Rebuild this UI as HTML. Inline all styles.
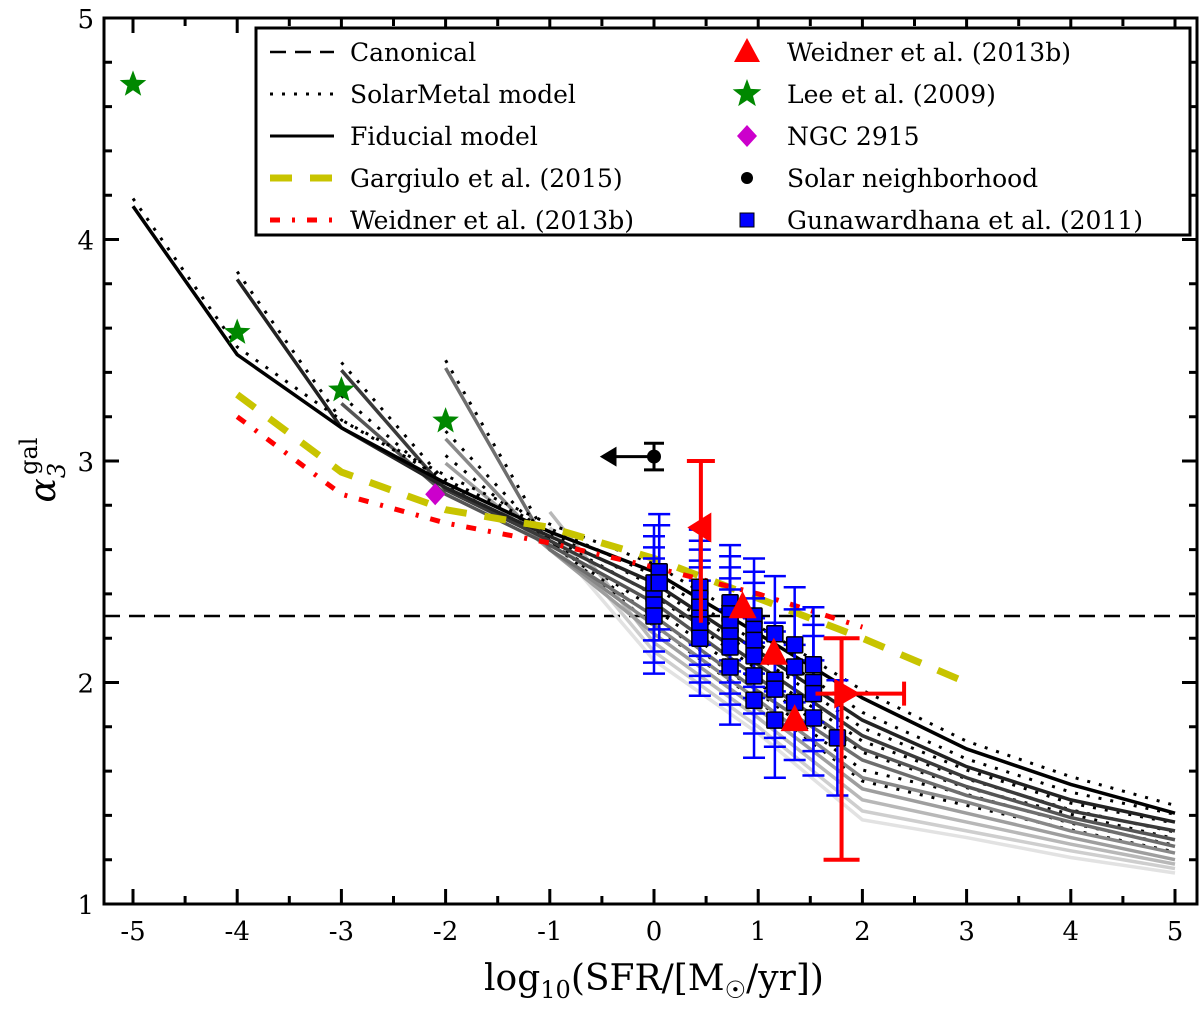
<!DOCTYPE html>
<html><head><meta charset="utf-8"><style>
body{margin:0;background:#fff;}
svg{display:block;font-family:"DejaVu Serif","Liberation Serif",serif;}
</style></head><body>
<svg id="chart" width="1200" height="1009"></svg>
<script>
const xTicks=[-5,-4,-3,-2,-1,0,1,2,3,4,5];
const yTicks=[1,2,3,4,5];
const modelStarts=[-5,-4,-3,-3,-2,-2,-2,-1,-1,-1];
const modelVals=[
[4.15,3.48,3.15,2.9,2.68,2.5,2.22,1.93,1.70,1.54,1.41],
[3.82,3.15,2.88,2.66,2.45,2.14,1.83,1.62,1.47,1.37],
[3.41,2.87,2.64,2.4,2.08,1.76,1.57,1.42,1.33],
[3.26,2.85,2.62,2.36,2.02,1.70,1.53,1.39,1.29],
[3.42,2.6,2.3,1.96,1.65,1.49,1.37,1.26],
[3.10,2.6,2.26,1.92,1.57,1.46,1.33,1.23],
[2.99,2.6,2.22,1.88,1.52,1.41,1.30,1.20],
[2.77,2.18,1.84,1.47,1.37,1.27,1.18],
[2.7,2.14,1.80,1.42,1.33,1.24,1.16],
[2.65,2.10,1.77,1.38,1.30,1.21,1.14]];
const modelShades=['#000','#222','#3a3a3a','#555','#6e6e6e','#888','#9e9e9e','#b8b8b8','#cecece','#e2e2e2'];
const gargX=[-4,-3,-2,-1,0,1,2,3];
const gargY=[3.3,2.95,2.78,2.7,2.56,2.38,2.2,2.0];
const weidX=[-4,-3,-2,-1,0,1,2];
const weidY=[3.2,2.85,2.72,2.63,2.52,2.4,2.25];
const starX=[-5,-4,-3,-2];
const starY=[4.7,3.58,3.32,3.18];
const gunX=[0,0,0,0,0.05,0.05,0.44,0.44,0.44,0.44,0.44,0.44,0.73,0.73,0.73,0.73,0.73,0.73,0.96,0.96,0.96,0.96,0.96,0.96,1.16,1.16,1.16,1.16,1.35,1.35,1.35,1.53,1.53,1.53,1.53,1.76];
const gunY=[2.4,2.35,2.3,2.45,2.5,2.45,2.43,2.38,2.34,2.29,2.26,2.2,2.36,2.31,2.26,2.21,2.16,2.07,2.3,2.24,2.19,2.12,2.03,1.92,2.22,2.01,1.97,1.83,2.17,2.07,1.91,2.08,2.0,1.95,1.84,1.75];
const gunErr=0.26;
const triX=[0.85,1.15,1.35];
const triY=[2.34,2.13,1.83];
const canonical=2.3;

const L=104,R=1197,T=18,B=904;
const sx=v=>654+v*104.2;
const sy=v=>904-(v-1)*221.5;
const NS='http://www.w3.org/2000/svg';
const svg=document.getElementById('chart');
function el(tag,attrs,parent){const e=document.createElementNS(NS,tag);for(const k in attrs)e.setAttribute(k,attrs[k]);(parent||svg).appendChild(e);return e;}
const clip=el('clipPath',{id:'pc'});el('rect',{x:L,y:T,width:R-L,height:B-T},clip);
const plot=el('g',{'clip-path':'url(#pc)'});



const can=el('line',{x1:L,x2:R,y1:sy(canonical),y2:sy(canonical),stroke:'#000','stroke-width':2.5,'stroke-dasharray':'16,9'},plot);



for(let i=modelVals.length-1;i>=0;i--){
  const pts=modelVals[i].map((v,j)=>sx(modelStarts[i]+j)+','+sy(v)).join(' ');
  const pl=el('polyline',{points:pts,fill:'none',stroke:modelShades[i],'stroke-width':3.5},plot);
  
  
  if(i<7){
    const pd=modelVals[i].map((v,j)=>sx(modelStarts[i]+j)+','+sy(v+0.035)).join(' ');
    const dl=el('polyline',{points:pd,fill:'none',stroke:'#000','stroke-width':3,'stroke-dasharray':'3,9'},plot);
    
    
  }
}
const g=el('polyline',{points:gargX.map((x,i)=>sx(x)+','+sy(gargY[i])).join(' '),fill:'none',stroke:'#c8c400','stroke-width':7,'stroke-dasharray':'22,18'},plot);


const w=el('polyline',{points:weidX.map((x,i)=>sx(x)+','+sy(weidY[i])).join(' '),fill:'none',stroke:'#f00','stroke-width':5,'stroke-dasharray':'10,12,3,12'},plot);



gunX.forEach((x,i)=>{
  const cx=sx(x),t=sy(gunY[i]+gunErr),b=sy(gunY[i]-gunErr);
  const eb=el('path',{d:`M${cx},${t}V${b}M${cx-11},${t}h22M${cx-11},${b}h22`,stroke:'#00f','stroke-width':2.5,fill:'none'},plot);
  
  
});
gunX.forEach((x,i)=>{
  const r=el('rect',{x:sx(x)-8,y:sy(gunY[i])-8,width:16,height:16,fill:'#00f',stroke:'#000','stroke-width':1.5,rx:1},plot);
  
  
});
function redBar(d,name){const p=el('path',{d:d,stroke:'#f00','stroke-width':4,fill:'none'},plot);}
redBar(`M${sx(0.45)},${sy(3.0)}V${sy(2.27)}M${sx(0.45)-14},${sy(3.0)}h28`,'weidner-left-errorbar');
redBar(`M${sx(1.8)},${sy(2.2)}V${sy(1.2)}M${sx(1.8)-18},${sy(2.2)}h36M${sx(1.8)-18},${sy(1.2)}h36M${sx(1.55)},${sy(1.95)}H${sx(2.4)}M${sx(2.4)},${sy(1.95)-12}v24`,'weidner-right-errorbar');
const lt=el('polygon',{points:`${sx(0.32)},${sy(2.7)} ${sx(0.55)},${sy(2.7)-15} ${sx(0.55)},${sy(2.7)+15}`,fill:'#f00'},plot);


const rt=el('polygon',{points:`${sx(1.98)},${sy(1.95)} ${sx(1.73)},${sy(1.95)-15} ${sx(1.73)},${sy(1.95)+15}`,fill:'#f00'},plot);


triX.forEach((x,i)=>{
  const cx=sx(x),cy=sy(triY[i]);
  const p=el('polygon',{points:`${cx},${cy-16} ${cx-14},${cy+11} ${cx+14},${cy+11}`,fill:'#f00'},plot);
  
  
});
const sn=el('path',{d:`M${sx(0)},${sy(3.08)}V${sy(2.96)}M${sx(0)-10},${sy(3.08)}h20M${sx(0)-10},${sy(2.96)}h20M${sx(0)},${sy(3.02)}H${sx(-0.42)}`,stroke:'#000','stroke-width':3,fill:'none'},plot);


const sa=el('polygon',{points:`${sx(-0.52)},${sy(3.02)} ${sx(-0.36)},${sy(3.02)-10} ${sx(-0.36)},${sy(3.02)+10}`,fill:'#000'},plot);


const sc=el('circle',{cx:sx(0),cy:sy(3.02),r:7,fill:'#000'},plot);


function starPts(cx,cy,r){let p=[];for(let k=0;k<10;k++){const a=-Math.PI/2+k*Math.PI/5,rr=k%2?r*0.42:r;p.push((cx+rr*Math.cos(a)).toFixed(1)+','+(cy+rr*Math.sin(a)).toFixed(1));}return p.join(' ');}
starX.forEach((x,i)=>{
  const s=el('polygon',{points:starPts(sx(x),sy(starY[i]),14),fill:'#080'},plot);
  
  
});
const dm=el('polygon',{points:`${sx(-2.1)},${sy(2.85)-11} ${sx(-2.1)+10},${sy(2.85)} ${sx(-2.1)},${sy(2.85)+11} ${sx(-2.1)-10},${sy(2.85)}`,fill:'#c0c'},plot);



const fr=el('rect',{x:L,y:T,width:R-L,height:B-T,fill:'none',stroke:'#000','stroke-width':3});


let tk='';
for(let v=-5;v<=5.001;v+=0.5){const x=sx(v),len=Math.abs(v-Math.round(v))<0.01?15:8;tk+=`M${x},${B}v${-len}M${x},${T}v${len}`;}
for(let v=1;v<=5.001;v+=0.2){const y=sy(v),len=Math.abs(v-Math.round(v))<0.01?15:8;tk+=`M${L},${y}h${len}M${R},${y}h${-len}`;}
const tp=el('path',{d:tk,stroke:'#000','stroke-width':3});


xTicks.forEach(v=>{const t=el('text',{x:sx(v),y:940,'text-anchor':'middle','font-size':26});t.textContent=v;});
yTicks.forEach(v=>{const t=el('text',{x:94,y:sy(v)+10,'text-anchor':'end','font-size':26});t.textContent=v;});
const xl=el('text',{x:654,y:990,'text-anchor':'middle','font-size':36});
xl.innerHTML='log<tspan font-size="24" dy="8">10</tspan><tspan dy="-8">(SFR/[M</tspan><tspan font-size="24" dy="8">☉</tspan><tspan dy="-8">/yr])</tspan>';


const yl=el('text',{transform:'translate(55,470) rotate(-90)','text-anchor':'middle','font-size':36,'font-style':'italic'});
yl.innerHTML='α<tspan font-size="24" dy="10">3</tspan><tspan font-size="24" font-style="normal" dy="-28" dx="-12">gal</tspan>';



const lg=el('g',{});


el('rect',{x:256,y:28,width:934,height:207,fill:'#fff',stroke:'#000','stroke-width':3},lg);
const leftItems=[['Canonical','#000',2.5,'16,9'],['SolarMetal model','#000',3,'3,9'],['Fiducial model','#000',3,''],['Gargiulo et al. (2015)','#c8c400',7,'22,18'],['Weidner et al. (2013b)','#f00',5,'10,12,3,12']];
leftItems.forEach((it,i)=>{
  const y=52+i*42;
  const e=el('g',{},lg);
  
  
  el('line',{x1:270,x2:334,y1:y,y2:y,stroke:it[1],'stroke-width':it[2],'stroke-dasharray':it[3]},e);
  const t=el('text',{x:350,y:y+9,'font-size':25},e);t.textContent=it[0];
});
const rightItems=['Weidner et al. (2013b)','Lee et al. (2009)','NGC 2915','Solar neighborhood','Gunawardhana et al. (2011)'];
rightItems.forEach((s,i)=>{
  const y=52+i*42,cx=747;
  const e=el('g',{},lg);
  
  
  if(i==0)el('polygon',{points:`${cx},${y-14} ${cx-13},${y+10} ${cx+13},${y+10}`,fill:'#f00'},e);
  if(i==1)el('polygon',{points:starPts(cx,y,15),fill:'#080'},e);
  if(i==2)el('polygon',{points:`${cx},${y-11} ${cx+10},${y} ${cx},${y+11} ${cx-10},${y}`,fill:'#c0c'},e);
  if(i==3)el('circle',{cx:cx,cy:y,r:6,fill:'#000'},e);
  if(i==4)el('rect',{x:cx-7,y:y-7,width:14,height:14,fill:'#00f',stroke:'#000','stroke-width':1},e);
  const t=el('text',{x:787,y:y+9,'font-size':25},e);t.textContent=s;
});
</script>
</body></html>
